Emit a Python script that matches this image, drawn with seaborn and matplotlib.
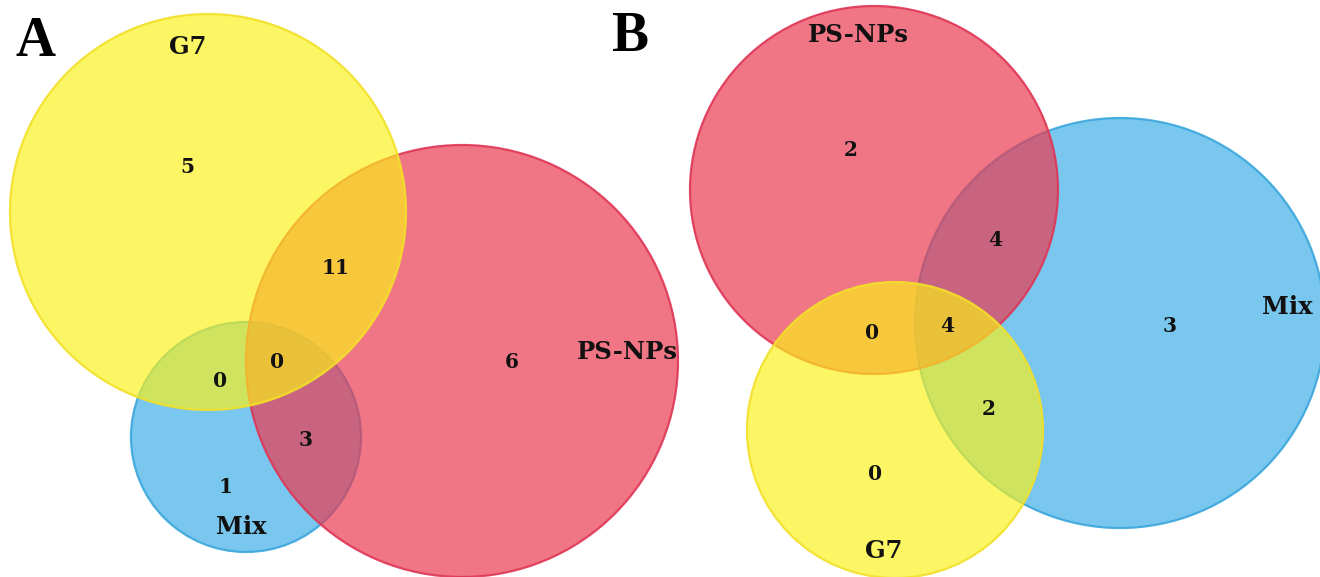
import matplotlib
matplotlib.use("Agg")
import matplotlib.pyplot as plt
from matplotlib.patches import Circle
import seaborn as sns

# set names and region counts
set_names = ["Mix", "PS-NPs", "G7"]
panel_a_counts = {"G7": 5, "G7&PS": 11, "G7&Mix": 0, "all": 0, "PS&Mix": 3, "Mix": 1, "PS": 6}
panel_b_counts = {"PS": 2, "PS&Mix": 4, "all": 4, "PS&G7": 0, "Mix": 3, "G7&Mix": 2, "G7": 0}

# layout (pixel space of the 1320x577 figure): circle centre x, y, radius
circles_a = {"Mix": (246, 437, 115), "PS-NPs": (462, 361, 216), "G7": (208, 212, 198)}
circles_b = {"Mix": (1120, 323, 205), "PS-NPs": (874, 190, 184), "G7": (895, 430, 148)}
count_pos_a = {"G7": (187, 167), "G7&PS": (336, 268), "G7&Mix": (220, 381), "all": (277, 362),
               "PS&Mix": (306, 440), "Mix": (226, 487), "PS": (512, 362)}
count_pos_b = {"PS": (851, 150), "PS&Mix": (995, 240), "all": (947, 326), "PS&G7": (872, 333),
               "Mix": (1170, 326), "G7&Mix": (989, 409), "G7": (875, 474)}
name_pos_a = {"G7": (188, 47), "PS-NPs": (627, 352), "Mix": (241, 527)}
name_pos_b = {"PS-NPs": (858, 35), "Mix": (1287, 307), "G7": (884, 551)}

fill = {"Mix": "#40b0e7", "PS-NPs": "#ea3a51", "G7": "#fcf218"}
edge = {"Mix": "#3aa6dc", "PS-NPs": "#de3656", "G7": "#f2e02a"}

sns.set_theme(style="white")
plt.rcParams["font.family"] = ["DejaVu Serif"]

fig = plt.figure(figsize=(13.2, 5.77), dpi=100)
ax = fig.add_axes([0, 0, 1, 1])
ax.set_xlim(0, 1320)
ax.set_ylim(577, 0)
ax.axis("off")


def draw_panel(circles, counts, count_pos, name_pos):
    for name in set_names:  # Mix at the bottom, G7 on top
        x, y, r = circles[name]
        a = 0.67 if name == "G7" else 0.7
        ax.add_patch(Circle((x, y), r, facecolor=fill[name], alpha=a, lw=0))
        ax.add_patch(Circle((x, y), r, facecolor="none", edgecolor=edge[name], lw=1.6, alpha=0.9))
    for key, val in counts.items():
        cx, cy = count_pos[key]
        ax.text(cx, cy, str(val), ha="center", va="center", fontsize=14.5, fontweight="bold", color="#111111")
    for key, (nx, ny) in name_pos.items():
        ax.text(nx, ny, key, ha="center", va="center", fontsize=17.5, fontweight="bold", color="#111111")


draw_panel(circles_a, panel_a_counts, count_pos_a, name_pos_a)
draw_panel(circles_b, panel_b_counts, count_pos_b, name_pos_b)

ax.text(35, 42, "A", ha="center", va="center", fontsize=40, fontweight="bold", color="black",
        family="Liberation Serif")
ax.text(630, 37, "B", ha="center", va="center", fontsize=40, fontweight="bold", color="black",
        family="Liberation Serif")

fig.savefig("out.png", dpi=100)
